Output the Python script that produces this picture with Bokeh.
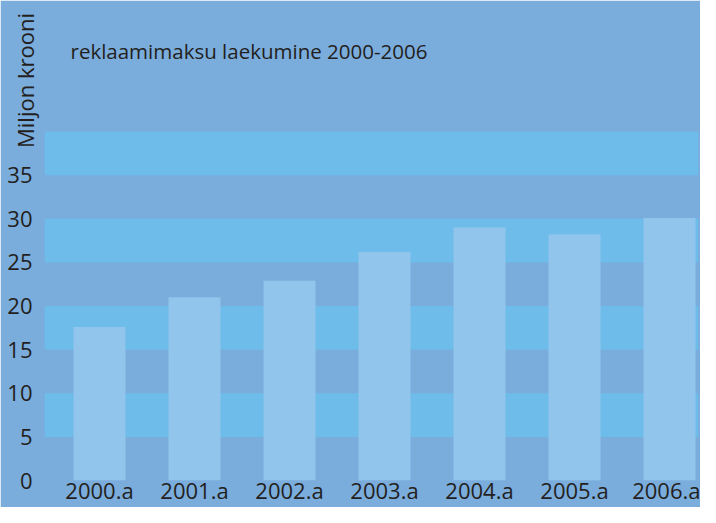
from bokeh.plotting import figure
from bokeh.models import FixedTicker, Range1d
from bokeh.embed import file_html
from bokeh.resources import INLINE

# ---- data ----
years = ["2000.a", "2001.a", "2002.a", "2003.a", "2004.a", "2005.a", "2006.a"]
values = [17.6, 21.0, 22.9, 26.2, 29.0, 28.2, 30.1]
y_ticks = [0, 5, 10, 15, 20, 25, 30, 35]
band_ticks = [0, 5, 10, 15, 20, 25, 30, 35, 40]
title_text = "reklaamimaksu laekumine 2000-2006"
y_label = "Miljon krooni"

# ---- style ----
BG = "#7AACDC"
BAND = "#6EBCEA"
BAR = "#92C5EB"
INK = "#231F20"
FONT = "Open Sans"

x_pos = list(range(len(years)))

p = figure(width=700, height=507, output_backend="svg", toolbar_location=None,
           x_range=Range1d(-0.579, 6.305), y_range=Range1d(0, 45.85),
           min_border_left=44, min_border_right=2, min_border_top=80,
           min_border_bottom=27)

p.background_fill_color = BG
p.border_fill_color = BG
p.outline_line_color = BG
p.outline_line_width = 2

# title above the frame
p.title.text = title_text
p.title.align = "left"
p.title.offset = 26
p.title.standoff = 32
p.title.text_font = FONT
p.title.text_font_size = "20.5px"
p.title.text_font_style = "normal"
p.title.text_color = INK

p.vbar(x=x_pos, top=values, bottom=0, width=0.547, fill_color=BAR, line_color=None)

# grid bands
p.xgrid.visible = False
p.ygrid.ticker = FixedTicker(ticks=band_ticks)
p.ygrid.grid_line_color = None
p.ygrid.band_fill_color = BAND
p.ygrid.band_fill_alpha = 1.0

# y axis
p.yaxis.ticker = FixedTicker(ticks=y_ticks)
p.yaxis.axis_line_color = None
p.yaxis.major_tick_line_color = None
p.yaxis.minor_tick_line_color = None
p.yaxis.major_tick_out = 0
p.yaxis.major_tick_in = 0
p.yaxis.minor_tick_out = 0
p.yaxis.major_label_text_font = FONT
p.yaxis.major_label_text_font_size = "22px"
p.yaxis.major_label_text_color = INK
p.yaxis.major_label_standoff = 12
p.yaxis.axis_label = y_label
p.yaxis.axis_label_text_font = FONT
p.yaxis.axis_label_text_font_size = "22px"
p.yaxis.axis_label_text_font_style = "normal"
p.yaxis.axis_label_text_color = INK
p.yaxis.axis_label_standoff = -36
p.yaxis.axis_label_align = "end"

# x axis
p.xaxis.ticker = FixedTicker(ticks=x_pos)
p.xaxis.major_label_overrides = {i: years[i] for i in x_pos}
p.xaxis.axis_line_color = None
p.xaxis.major_tick_line_color = None
p.xaxis.minor_tick_line_color = None
p.xaxis.major_tick_out = 0
p.xaxis.major_tick_in = 0
p.xaxis.minor_tick_out = 0
p.xaxis.major_label_text_font = FONT
p.xaxis.major_label_text_font_size = "22px"
p.xaxis.major_label_text_color = INK
p.xaxis.major_label_standoff = -6

open("out.html", "w").write(file_html(p, INLINE))
